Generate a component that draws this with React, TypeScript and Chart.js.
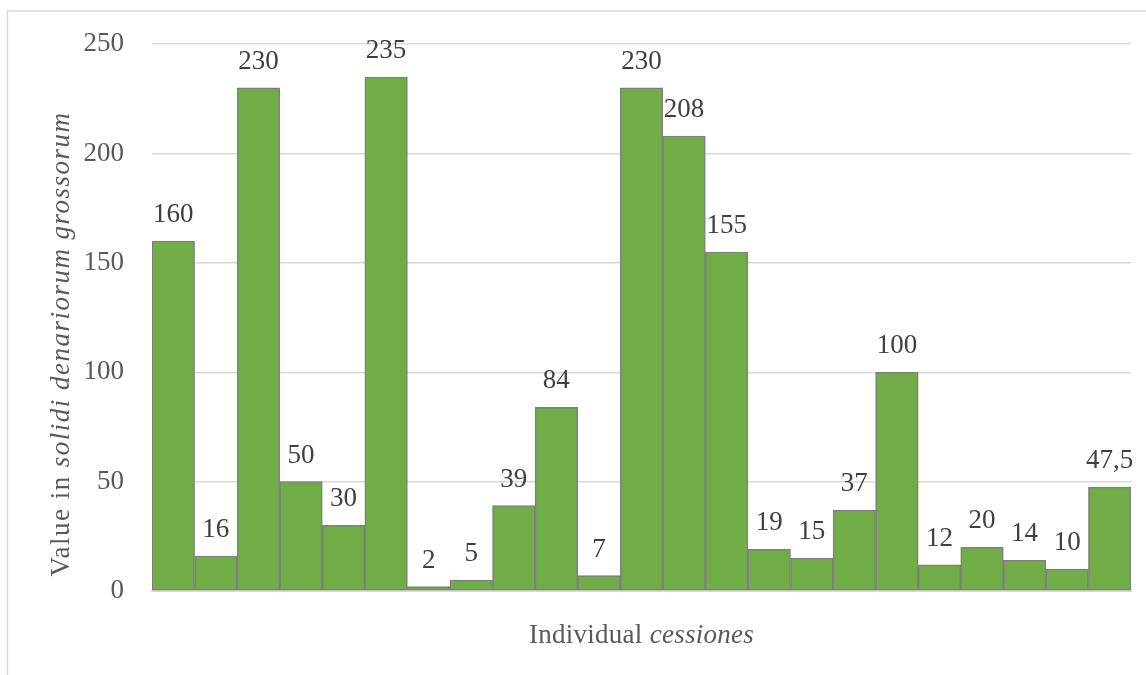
import React, { useEffect, useRef } from "react";
import { Chart, registerables } from "chart.js";

Chart.register(...registerables);

const categories: string[] = [
  "1", "2", "3", "4", "5", "6", "7", "8", "9", "10", "11", "12",
  "13", "14", "15", "16", "17", "18", "19", "20", "21", "22", "23",
];
const values: number[] = [
  160, 16, 230, 50, 30, 235, 2, 5, 39, 84, 7, 230, 208, 155, 19, 15, 37, 100, 12, 20, 14, 10, 47.5,
];
const yTicks: number[] = [0, 50, 100, 150, 200, 250];
const yTitleNormal = "Value in ";
const yTitleItalic = "solidi denariorum grossorum";
const xTitleNormal = "Individual ";
const xTitleItalic = "cessiones";

const FONT = "'Liberation Serif', 'Times New Roman', serif";
const TEXT = "#595959";

function drawMixed(
  ctx: CanvasRenderingContext2D,
  normal: string,
  italic: string,
  cx: number,
  y: number,
  targetWidth?: number
) {
  const c: any = ctx;
  c.letterSpacing = "0px";
  ctx.font = `27px ${FONT}`;
  let w1 = ctx.measureText(normal).width;
  ctx.font = `italic 27px ${FONT}`;
  let w2 = ctx.measureText(italic).width;
  let spacing = 0;
  if (targetWidth) {
    const n = normal.length + italic.length;
    spacing = (targetWidth - (w1 + w2)) / n;
    w1 += spacing * normal.length;
    w2 += spacing * italic.length;
  }
  c.letterSpacing = `${spacing}px`;
  const start = cx - (w1 + w2) / 2;
  ctx.textAlign = "left";
  ctx.textBaseline = "alphabetic";
  ctx.fillStyle = TEXT;
  ctx.font = `27px ${FONT}`;
  ctx.fillText(normal, start, y);
  ctx.font = `italic 27px ${FONT}`;
  ctx.fillText(italic, start + w1, y);
  c.letterSpacing = "0px";
}

const decorPlugin = {
  id: "decor",
  beforeDraw(chart: any) {
    const ctx = chart.ctx;
    ctx.save();
    ctx.strokeStyle = "#d9d9d9";
    ctx.lineWidth = 1.5;
    ctx.strokeRect(7.5, 11, 1200, 800);
    ctx.restore();
  },
  afterDatasetsDraw(chart: any) {
    const ctx = chart.ctx;
    const meta = chart.getDatasetMeta(0);
    ctx.save();
    ctx.font = `27px ${FONT}`;
    ctx.fillStyle = "#404040";
    ctx.textAlign = "center";
    ctx.textBaseline = "alphabetic";
    meta.data.forEach((bar: any, i: number) => {
      const label = String(values[i]).replace(".", ",");
      ctx.fillText(label, bar.x, bar.y - 19);
    });
    ctx.restore();
  },
  afterDraw(chart: any) {
    const ctx = chart.ctx;
    const area = chart.chartArea;
    ctx.save();
    drawMixed(ctx, xTitleNormal, xTitleItalic, (area.left + area.right) / 2, 643, 225);
    ctx.translate(69, 344);
    ctx.rotate(-Math.PI / 2);
    drawMixed(ctx, yTitleNormal, yTitleItalic, 0, 0, 465);
    ctx.restore();
  },
};

export default function App() {
  const ref = useRef<HTMLCanvasElement | null>(null);
  useEffect(() => {
    document.body.style.margin = "0";
    if (!ref.current) return;
    const chart = new Chart(ref.current, {
      type: "bar",
      data: {
        labels: categories,
        datasets: [
          {
            data: values,
            backgroundColor: "#70ad47",
            borderColor: "#7f7f7f",
            borderWidth: 1.5,
            borderSkipped: false,
            barPercentage: 1,
            categoryPercentage: 1,
          },
        ],
      },
      options: {
        responsive: false,
        animation: false,
        layout: { padding: { top: 43, right: 15, left: 0, bottom: 0 } },
        plugins: { legend: { display: false }, tooltip: { enabled: false } },
        scales: {
          x: {
            ticks: { display: false },
            grid: { display: false },
            border: { color: "#d9d9d9", width: 2 },
            afterFit: (s: any) => { s.height = 84; },
          },
          y: {
            min: 0,
            max: 250,
            afterBuildTicks: (s: any) => { s.ticks = yTicks.map((v) => ({ value: v })); },
            ticks: { padding: 28, color: TEXT, font: { family: FONT, size: 27 } },
            grid: { color: "#d9d9d9", lineWidth: 1.5, drawTicks: false },
            border: { display: false },
            afterFit: (s: any) => { s.width = 152; },
          },
        },
      },
      plugins: [decorPlugin],
    });
    return () => chart.destroy();
  }, []);
  return <canvas ref={ref} width={1146} height={675} style={{ display: "block" }} />;
}
